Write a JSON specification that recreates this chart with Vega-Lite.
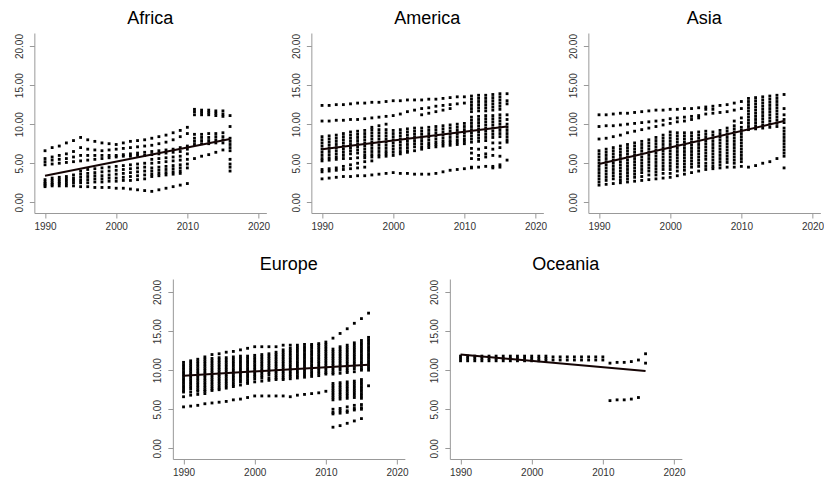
{
"$schema":"https://vega.github.io/schema/vega-lite/v6.json",
"padding":{"left":14,"top":10,"right":0,"bottom":0},
"background":"white",
"config":{"view":{"stroke":null},"axis":{"grid":false,"domainColor":"#999","tickColor":"#999","tickSize":5,"labelFont":"Liberation Sans","labelFontSize":10,"labelColor":"#333","labelPadding":3},"axisY":{"labelPadding":5},"title":{"font":"Liberation Sans","fontSize":18,"fontWeight":"normal","color":"#000","offset":5}},
"datasets":{
"pts":[
{"r":"Africa","x":1990,"v":[6.6,5.6,5.2,4.8,2.9,2.6,2.4,2.2,2.0]},
{"r":"Africa","x":1991,"v":[7.0,5.8,5.4,4.9,3.1,2.8,2.5,2.3,2.1]},
{"r":"Africa","x":1992,"v":[7.2,6.0,5.5,5.0,3.2,2.9,2.6,2.4,2.1]},
{"r":"Africa","x":1993,"v":[7.6,6.2,5.6,5.1,3.3,3.0,2.7,2.4,2.1]},
{"r":"Africa","x":1994,"v":[7.9,6.5,5.8,5.2,3.5,3.1,2.8,2.5,2.1]},
{"r":"Africa","x":1995,"v":[8.3,7.0,6.0,5.3,4.0,3.6,3.2,2.8,2.5,2.0]},
{"r":"Africa","x":1996,"v":[8.0,6.8,6.0,5.4,4.2,3.7,3.3,2.9,2.5,2.0]},
{"r":"Africa","x":1997,"v":[7.8,6.7,6.0,5.5,4.3,3.8,3.4,3.0,2.6,1.9]},
{"r":"Africa","x":1998,"v":[7.6,6.6,6.0,5.6,4.4,3.9,3.4,3.0,2.6,1.9]},
{"r":"Africa","x":1999,"v":[7.5,6.7,6.0,5.7,4.5,4.0,3.5,3.1,2.7,1.9]},
{"r":"Africa","x":2000,"v":[7.4,6.8,6.0,5.8,4.6,4.1,3.6,3.1,2.7,1.8]},
{"r":"Africa","x":2001,"v":[7.6,6.9,6.1,5.9,4.7,4.2,3.7,3.2,2.8,1.8]},
{"r":"Africa","x":2002,"v":[7.8,7.0,6.2,5.9,4.8,4.3,3.8,3.3,2.8,1.7]},
{"r":"Africa","x":2003,"v":[7.9,7.1,6.3,6.0,4.9,4.4,3.9,3.4,2.9,1.6]},
{"r":"Africa","x":2004,"v":[8.0,7.2,6.4,6.0,5.0,4.5,4.0,3.5,3.0,1.5]},
{"r":"Africa","x":2005,"v":[8.2,7.3,6.5,6.1,5.5,5.0,4.4,4.0,3.6,3.3,1.4]},
{"r":"Africa","x":2006,"v":[8.4,7.5,6.6,6.2,5.6,5.1,4.5,4.1,3.7,3.4,1.6]},
{"r":"Africa","x":2007,"v":[8.6,7.7,6.7,6.3,5.7,5.2,4.6,4.2,3.8,3.5,1.8]},
{"r":"Africa","x":2008,"v":[8.9,8.0,6.8,6.4,5.8,5.3,4.7,4.3,3.9,3.6,2.0]},
{"r":"Africa","x":2009,"v":[9.2,8.4,7.0,6.5,5.9,5.4,4.8,4.4,4.0,3.7,2.2]},
{"r":"Africa","x":2010,"v":[9.6,8.8,7.2,6.8,6.2,5.5,4.9,4.4,2.4]},
{"r":"Africa","x":2011,"v":[11.9,11.6,11.2,8.7,8.2,7.8,7.4,5.6]},
{"r":"Africa","x":2012,"v":[11.8,11.5,11.2,8.7,8.3,7.9,7.5,5.9]},
{"r":"Africa","x":2013,"v":[11.8,11.5,11.2,8.8,8.3,7.9,7.5,6.1]},
{"r":"Africa","x":2014,"v":[11.7,11.4,11.1,8.8,8.4,8.0,7.6,6.4]},
{"r":"Africa","x":2015,"v":[11.7,11.3,11.0,8.9,8.4,8.0,7.6,6.7]},
{"r":"Africa","x":2016,"v":[11.1,9.7,8.2,7.8,7.4,7.0,6.6,5.5,4.9,4.5,4.0]},
{"r":"America","x":1990,"v":[12.4,10.4,8.4,8.0,7.6,7.2,6.8,6.4,6.0,5.6,5.3,4.2,3.9,3.0]},
{"r":"America","x":1991,"v":[12.4,10.4,8.5,8.1,7.7,7.3,6.9,6.5,6.1,5.7,5.4,4.3,4.0,3.1]},
{"r":"America","x":1992,"v":[12.5,10.5,8.6,8.2,7.8,7.4,7.0,6.6,6.2,5.8,5.5,4.4,4.1,3.2]},
{"r":"America","x":1993,"v":[12.5,10.5,8.8,8.4,8.0,7.6,7.2,6.8,6.4,6.0,5.6,4.6,4.2,3.3]},
{"r":"America","x":1994,"v":[12.6,10.6,9.0,8.6,8.2,7.8,7.4,7.0,6.6,6.2,5.6,4.8,4.3,3.3]},
{"r":"America","x":1995,"v":[12.7,10.6,9.1,8.7,8.3,7.9,7.5,7.1,6.7,6.3,5.7,5.0,4.4,3.4]},
{"r":"America","x":1996,"v":[12.7,10.7,9.2,8.8,8.4,8.0,7.6,7.2,6.8,6.4,6.0,5.7,5.2,4.5,3.4]},
{"r":"America","x":1997,"v":[12.8,10.8,9.6,9.3,8.9,8.5,8.1,7.7,7.3,6.9,6.5,6.1,5.8,5.3,3.5]},
{"r":"America","x":1998,"v":[12.8,10.9,9.8,9.3,8.9,8.5,8.1,7.7,7.3,6.9,6.5,6.1,5.8,3.6]},
{"r":"America","x":1999,"v":[12.9,11.0,10.0,9.3,8.9,8.5,8.1,7.7,7.3,6.9,6.5,6.2,5.9,3.7]},
{"r":"America","x":2000,"v":[13.0,11.1,9.2,8.8,8.4,8.0,7.6,7.2,6.8,6.4,6.0,3.8]},
{"r":"America","x":2001,"v":[13.0,11.3,9.3,8.9,8.5,8.1,7.7,7.3,6.9,6.5,6.2,3.7]},
{"r":"America","x":2002,"v":[13.1,11.6,9.4,9.0,8.6,8.2,7.8,7.4,7.0,6.6,6.4,3.7]},
{"r":"America","x":2003,"v":[13.1,11.8,9.5,9.1,8.7,8.3,7.9,7.5,7.1,6.6,3.6]},
{"r":"America","x":2004,"v":[13.1,12.0,11.2,9.5,9.1,8.7,8.3,7.9,7.5,7.1,6.8,3.6]},
{"r":"America","x":2005,"v":[13.2,12.1,11.4,9.6,9.2,8.8,8.4,8.0,7.6,7.3,7.0,3.6]},
{"r":"America","x":2006,"v":[13.2,12.3,11.6,9.7,9.3,8.9,8.5,8.1,7.7,7.4,7.1,3.7]},
{"r":"America","x":2007,"v":[13.3,12.4,11.8,9.8,9.4,9.0,8.6,8.2,7.8,7.5,7.2,3.9]},
{"r":"America","x":2008,"v":[13.4,12.5,12.0,9.9,9.5,9.1,8.7,8.3,7.9,7.6,7.3,4.1]},
{"r":"America","x":2009,"v":[13.5,12.6,10.0,9.6,9.2,8.8,8.4,8.0,7.7,7.4,4.2]},
{"r":"America","x":2010,"v":[13.5,12.7,10.1,9.7,9.3,8.9,8.5,8.1,7.8,7.5,4.3]},
{"r":"America","x":2011,"v":[13.6,13.2,12.8,12.4,12.0,11.6,10.9,10.5,10.1,9.7,9.3,8.9,8.5,8.1,7.7,6.9,6.3,5.6,4.5,4.4]},
{"r":"America","x":2012,"v":[13.7,13.3,12.9,12.5,12.1,11.7,11.0,10.6,10.2,9.8,9.4,9.0,8.6,8.2,7.8,6.8,6.0,5.5,4.5]},
{"r":"America","x":2013,"v":[13.7,13.3,12.9,12.5,12.1,11.7,11.1,10.7,10.3,9.9,9.5,9.1,8.7,8.3,7.9,7.0,6.2,5.8,4.6]},
{"r":"America","x":2014,"v":[13.8,13.4,13.0,12.6,12.2,11.8,11.1,10.7,10.3,9.9,9.5,9.1,8.7,8.3,7.6,6.8,6.0,4.6,4.4]},
{"r":"America","x":2015,"v":[13.9,13.5,13.1,12.7,12.3,11.9,11.2,10.8,10.4,10.0,9.6,9.2,8.8,8.4,7.6,7.0,5.9,4.8,4.5]},
{"r":"America","x":2016,"v":[13.9,13.0,12.6,11.2,10.6,10.0,9.6,9.2,8.8,8.4,8.0,7.7,5.4]},
{"r":"Asia","x":1990,"v":[11.2,9.7,8.1,6.6,6.2,5.8,5.4,5.0,4.6,4.2,3.8,3.4,3.0,2.6,2.2]},
{"r":"Asia","x":1991,"v":[11.2,9.8,8.2,6.8,6.4,6.0,5.6,5.2,4.8,4.4,4.0,3.6,3.2,2.8,2.3]},
{"r":"Asia","x":1992,"v":[11.3,9.8,8.4,7.0,6.6,6.2,5.8,5.4,5.0,4.6,4.2,3.8,3.4,3.0,2.4]},
{"r":"Asia","x":1993,"v":[11.4,9.9,8.6,7.2,6.8,6.4,6.0,5.6,5.2,4.8,4.4,4.0,3.6,3.2,2.8,2.5]},
{"r":"Asia","x":1994,"v":[11.4,10.0,8.9,7.4,7.0,6.6,6.2,5.8,5.4,5.0,4.6,4.2,3.8,3.4,3.0,2.6]},
{"r":"Asia","x":1995,"v":[11.5,10.1,9.1,7.6,7.2,6.8,6.4,6.0,5.6,5.2,4.8,4.4,4.0,3.6,3.2,2.7]},
{"r":"Asia","x":1996,"v":[11.6,10.2,9.3,7.8,7.4,7.0,6.6,6.2,5.8,5.4,5.0,4.6,4.2,3.8,3.3,2.8]},
{"r":"Asia","x":1997,"v":[11.7,10.3,9.5,8.0,7.6,7.2,6.8,6.4,6.0,5.6,5.2,4.8,4.4,4.0,3.5,2.9]},
{"r":"Asia","x":1998,"v":[11.8,10.4,9.7,8.3,7.9,7.5,7.1,6.7,6.3,5.9,5.5,5.1,4.7,4.3,3.9,3.5,3.0]},
{"r":"Asia","x":1999,"v":[11.8,10.5,9.9,8.6,8.2,7.8,7.4,7.0,6.6,6.2,5.8,5.4,5.0,4.6,4.2,3.7,3.1]},
{"r":"Asia","x":2000,"v":[11.9,10.7,10.1,9.0,8.6,8.2,7.8,7.4,7.0,6.6,6.2,5.8,5.4,5.0,4.6,4.2,3.7,3.2]},
{"r":"Asia","x":2001,"v":[11.9,10.8,10.3,8.9,8.5,8.1,7.7,7.3,6.9,6.5,6.1,5.7,5.3,4.9,4.5,4.0,3.4]},
{"r":"Asia","x":2002,"v":[12.0,10.9,10.4,8.9,8.5,8.1,7.7,7.3,6.9,6.5,6.1,5.7,5.3,4.9,4.5,4.1,3.6]},
{"r":"Asia","x":2003,"v":[12.0,11.0,10.6,8.9,8.5,8.1,7.7,7.3,6.9,6.5,6.1,5.7,5.3,4.9,4.5,3.8]},
{"r":"Asia","x":2004,"v":[12.1,11.1,10.8,9.0,8.6,8.2,7.8,7.4,7.0,6.6,6.2,5.8,5.4,5.0,4.6,4.0]},
{"r":"Asia","x":2005,"v":[12.2,11.3,11.9,9.1,8.7,8.3,7.9,7.5,7.1,6.7,6.3,5.9,5.5,5.0,4.6,4.2]},
{"r":"Asia","x":2006,"v":[12.3,11.4,11.9,9.0,8.6,8.2,7.8,7.4,7.0,6.6,6.2,5.8,5.4,5.0,4.6,4.3]},
{"r":"Asia","x":2007,"v":[12.4,11.5,9.2,8.8,8.4,8.0,7.6,7.2,6.8,6.4,6.0,5.6,5.2,4.8,4.4]},
{"r":"Asia","x":2008,"v":[12.5,11.6,9.5,9.1,8.7,8.3,7.9,7.5,7.1,6.7,6.3,5.9,5.5,5.1,4.5]},
{"r":"Asia","x":2009,"v":[12.7,11.8,10.4,9.8,9.4,9.0,8.6,8.2,7.8,7.4,7.0,6.6,6.2,5.8,5.4,5.0,4.5]},
{"r":"Asia","x":2010,"v":[12.9,12.0,10.8,10.2,9.6,9.2,8.8,8.4,8.0,7.6,7.2,6.8,6.4,6.0,5.6,5.2,4.6]},
{"r":"Asia","x":2011,"v":[13.3,12.9,12.5,12.1,11.7,11.3,10.9,10.5,10.1,9.7,9.3,4.5]},
{"r":"Asia","x":2012,"v":[13.4,13.0,12.6,12.2,11.8,11.4,11.0,10.6,10.2,9.8,9.4,4.7]},
{"r":"Asia","x":2013,"v":[13.5,13.1,12.7,12.3,11.9,11.5,11.1,10.7,10.3,9.9,9.5,5.0]},
{"r":"Asia","x":2014,"v":[13.6,13.2,12.8,12.4,12.0,11.6,11.2,10.8,10.4,10.0,9.6,5.2]},
{"r":"Asia","x":2015,"v":[13.7,13.3,12.9,12.5,12.1,11.7,11.3,10.9,10.5,10.1,9.7,5.6]},
{"r":"Asia","x":2016,"v":[13.8,12.0,11.2,10.6,10.2,9.5,9.1,8.7,8.3,7.9,7.5,7.1,6.7,6.3,5.9,4.4]},
{"r":"Europe","x":1990,"v":[11.0,10.7,10.4,10.1,9.8,9.5,9.2,8.9,8.6,8.3,8.0,7.7,7.4,7.2,6.6,5.3]},
{"r":"Europe","x":1991,"v":[11.2,10.9,10.6,10.3,10.0,9.7,9.4,9.1,8.8,8.5,8.2,7.9,7.6,7.2,6.8,5.4]},
{"r":"Europe","x":1992,"v":[11.4,11.1,10.8,10.5,10.2,9.9,9.6,9.3,9.0,8.7,8.4,8.1,7.8,7.5,7.3,6.9,5.5]},
{"r":"Europe","x":1993,"v":[11.7,11.4,11.1,10.8,10.5,10.2,9.9,9.6,9.3,9.0,8.7,8.4,8.1,7.8,7.5,7.3,7.0,5.7]},
{"r":"Europe","x":1994,"v":[12.0,11.5,11.2,10.9,10.6,10.3,10.0,9.7,9.4,9.1,8.8,8.5,8.2,7.9,7.6,7.4,5.8]},
{"r":"Europe","x":1995,"v":[12.1,11.6,11.3,11.0,10.7,10.4,10.1,9.8,9.5,9.2,8.9,8.6,8.3,8.0,7.7,7.5,5.9]},
{"r":"Europe","x":1996,"v":[12.3,11.6,11.3,11.0,10.7,10.4,10.1,9.8,9.5,9.2,8.9,8.6,8.3,8.0,7.7,6.0]},
{"r":"Europe","x":1997,"v":[12.4,11.7,11.4,11.1,10.8,10.5,10.2,9.9,9.6,9.3,9.0,8.7,8.4,8.1,7.9,6.2]},
{"r":"Europe","x":1998,"v":[12.6,11.8,11.5,11.2,10.9,10.6,10.3,10.0,9.7,9.4,9.1,8.8,8.5,8.1,6.3]},
{"r":"Europe","x":1999,"v":[12.8,11.8,11.5,11.2,10.9,10.6,10.3,10.0,9.7,9.4,9.1,8.8,8.5,8.3,6.5]},
{"r":"Europe","x":2000,"v":[13.0,11.9,11.6,11.3,11.0,10.7,10.4,10.1,9.8,9.5,9.2,8.9,8.5,6.7]},
{"r":"Europe","x":2001,"v":[13.0,12.0,11.7,11.4,11.1,10.8,10.5,10.2,9.9,9.6,9.3,9.0,8.6,6.7]},
{"r":"Europe","x":2002,"v":[13.0,12.1,11.8,11.5,11.2,10.9,10.6,10.3,10.0,9.7,9.4,9.0,8.7,6.7]},
{"r":"Europe","x":2003,"v":[13.0,12.3,12.0,11.7,11.4,11.1,10.8,10.5,10.2,9.9,9.6,9.3,9.0,8.8,6.7]},
{"r":"Europe","x":2004,"v":[13.2,12.6,12.3,12.0,11.7,11.4,11.1,10.8,10.5,10.2,9.9,9.6,9.3,9.0,8.8,6.7]},
{"r":"Europe","x":2005,"v":[13.2,12.8,12.5,12.2,11.9,11.6,11.3,11.0,10.7,10.4,10.1,9.8,9.5,9.2,8.9,6.6]},
{"r":"Europe","x":2006,"v":[13.2,12.9,12.6,12.3,12.0,11.7,11.4,11.1,10.8,10.5,10.2,9.9,9.6,9.3,9.0,6.8]},
{"r":"Europe","x":2007,"v":[13.3,13.0,12.7,12.4,12.1,11.8,11.5,11.2,10.9,10.6,10.3,10.0,9.7,9.4,9.1,6.9]},
{"r":"Europe","x":2008,"v":[13.3,13.1,12.8,12.5,12.2,11.9,11.6,11.3,11.0,10.7,10.4,10.1,9.8,9.5,9.2,7.0]},
{"r":"Europe","x":2009,"v":[13.4,13.2,12.9,12.6,12.3,12.0,11.7,11.4,11.1,10.8,10.5,10.2,9.9,9.6,9.3,7.1]},
{"r":"Europe","x":2010,"v":[13.6,13.3,13.0,12.7,12.4,12.1,11.8,11.5,11.2,10.9,10.6,10.3,10.0,9.7,9.5,7.3]},
{"r":"Europe","x":2011,"v":[14.1,12.7,12.4,12.1,11.8,11.5,11.2,10.9,10.6,10.3,10.0,9.7,9.5,8.3,8.0,7.7,7.4,7.1,6.8,6.5,6.2,5.0,4.6,4.4,2.7]},
{"r":"Europe","x":2012,"v":[14.7,13.0,12.7,12.4,12.1,11.8,11.5,11.2,10.9,10.6,10.3,10.0,9.6,8.4,8.1,7.8,7.5,7.2,6.9,6.6,6.3,5.1,4.8,4.5,2.9]},
{"r":"Europe","x":2013,"v":[15.3,13.2,12.9,12.6,12.3,12.0,11.7,11.4,11.1,10.8,10.5,10.2,9.9,9.7,8.5,8.2,7.9,7.6,7.3,7.0,6.7,6.4,5.3,4.8,4.6,3.2]},
{"r":"Europe","x":2014,"v":[16.0,13.5,13.2,12.9,12.6,12.3,12.0,11.7,11.4,11.1,10.8,10.5,10.2,9.8,8.6,8.3,8.0,7.7,7.4,7.1,6.8,6.5,5.5,5.1,4.9,3.5]},
{"r":"Europe","x":2015,"v":[16.6,13.8,13.5,13.2,12.9,12.6,12.3,12.0,11.7,11.4,11.1,10.8,10.5,10.2,10.0,8.8,8.5,8.2,7.9,7.6,7.3,7.0,6.7,6.4,5.6,5.2,5.0,3.8]},
{"r":"Europe","x":2016,"v":[17.3,14.2,13.9,13.6,13.3,13.0,12.7,12.4,12.1,11.8,11.5,11.2,10.9,10.6,10.3,10.0,8.0]},
{"r":"Oceania","x":1990,"v":[11.8,11.5,11.2]},
{"r":"Oceania","x":1991,"v":[11.8,11.5,11.2]},
{"r":"Oceania","x":1992,"v":[11.8,11.5,11.2]},
{"r":"Oceania","x":1993,"v":[11.8,11.5,11.2]},
{"r":"Oceania","x":1994,"v":[11.8,11.5,11.2]},
{"r":"Oceania","x":1995,"v":[11.8,11.5,11.2]},
{"r":"Oceania","x":1996,"v":[11.8,11.5,11.2]},
{"r":"Oceania","x":1997,"v":[11.8,11.5,11.2]},
{"r":"Oceania","x":1998,"v":[11.8,11.5,11.2]},
{"r":"Oceania","x":1999,"v":[11.8,11.5,11.2]},
{"r":"Oceania","x":2000,"v":[11.8,11.5,11.2]},
{"r":"Oceania","x":2001,"v":[11.8,11.5,11.2]},
{"r":"Oceania","x":2002,"v":[11.8,11.5,11.2]},
{"r":"Oceania","x":2003,"v":[11.7,11.3]},
{"r":"Oceania","x":2004,"v":[11.7,11.3]},
{"r":"Oceania","x":2005,"v":[11.7,11.3]},
{"r":"Oceania","x":2006,"v":[11.7,11.3]},
{"r":"Oceania","x":2007,"v":[11.7,11.3]},
{"r":"Oceania","x":2008,"v":[11.7,11.3]},
{"r":"Oceania","x":2009,"v":[11.7,11.3]},
{"r":"Oceania","x":2010,"v":[11.7,11.3]},
{"r":"Oceania","x":2011,"v":[10.9,6.1]},
{"r":"Oceania","x":2012,"v":[11.0,6.2]},
{"r":"Oceania","x":2013,"v":[11.0,6.2]},
{"r":"Oceania","x":2014,"v":[11.1,6.3]},
{"r":"Oceania","x":2015,"v":[11.3,6.5]},
{"r":"Oceania","x":2016,"v":[12.1,10.9]}
],
"fit":[
{"r":"Africa","x":1990,"v":3.4},{"r":"Africa","x":2016,"v":8.1},
{"r":"America","x":1990,"v":6.8},{"r":"America","x":2016,"v":9.7},
{"r":"Asia","x":1990,"v":4.9},{"r":"Asia","x":2016,"v":10.4},
{"r":"Europe","x":1990,"v":9.3},{"r":"Europe","x":2016,"v":10.7},
{"r":"Oceania","x":1990,"v":12.0},{"r":"Oceania","x":2016,"v":9.9}
]},
"vconcat":[
{"hconcat":[
{"title":"Africa","width":232,"height":180,"layer":[
{"data":{"name":"pts"},"transform":[{"filter":"datum.r==='Africa'"},{"flatten":["v"]}],"mark":{"type":"point","shape":"square","filled":true,"size":8,"color":"#000","opacity":1},
"encoding":{"x":{"field":"x","type":"quantitative","scale":{"domain":[1988.5,2021.1],"nice":false,"zero":false},"axis":{"values":[1990,2000,2010,2020],"format":"d","title":null}},"y":{"field":"v","type":"quantitative","scale":{"domain":[-1.37,21.67],"nice":false,"zero":false},"axis":{"values":[0,5,10,15,20],"format":".2f","title":null,"labelAngle":270}}}},
{"data":{"name":"fit"},"transform":[{"filter":"datum.r==='Africa'"}],"mark":{"type":"line","color":"#150505","strokeWidth":2},
"encoding":{"x":{"field":"x","type":"quantitative"},"y":{"field":"v","type":"quantitative"}}}]},
{"title":"America","width":232,"height":180,"layer":[
{"data":{"name":"pts"},"transform":[{"filter":"datum.r==='America'"},{"flatten":["v"]}],"mark":{"type":"point","shape":"square","filled":true,"size":8,"color":"#000","opacity":1},
"encoding":{"x":{"field":"x","type":"quantitative","scale":{"domain":[1988.5,2021.1],"nice":false,"zero":false},"axis":{"values":[1990,2000,2010,2020],"format":"d","title":null}},"y":{"field":"v","type":"quantitative","scale":{"domain":[-1.37,21.67],"nice":false,"zero":false},"axis":{"values":[0,5,10,15,20],"format":".2f","title":null,"labelAngle":270}}}},
{"data":{"name":"fit"},"transform":[{"filter":"datum.r==='America'"}],"mark":{"type":"line","color":"#150505","strokeWidth":2},
"encoding":{"x":{"field":"x","type":"quantitative"},"y":{"field":"v","type":"quantitative"}}}]},
{"title":"Asia","width":232,"height":180,"layer":[
{"data":{"name":"pts"},"transform":[{"filter":"datum.r==='Asia'"},{"flatten":["v"]}],"mark":{"type":"point","shape":"square","filled":true,"size":8,"color":"#000","opacity":1},
"encoding":{"x":{"field":"x","type":"quantitative","scale":{"domain":[1988.5,2021.1],"nice":false,"zero":false},"axis":{"values":[1990,2000,2010,2020],"format":"d","title":null}},"y":{"field":"v","type":"quantitative","scale":{"domain":[-1.37,21.67],"nice":false,"zero":false},"axis":{"values":[0,5,10,15,20],"format":".2f","title":null,"labelAngle":270}}}},
{"data":{"name":"fit"},"transform":[{"filter":"datum.r==='Asia'"}],"mark":{"type":"line","color":"#150505","strokeWidth":2},
"encoding":{"x":{"field":"x","type":"quantitative"},"y":{"field":"v","type":"quantitative"}}}]}
],"spacing":45,"bounds":"flush"},
{"hconcat":[
{"title":"Europe","width":232,"height":180,"layer":[
{"data":{"name":"pts"},"transform":[{"filter":"datum.r==='Europe'"},{"flatten":["v"]}],"mark":{"type":"point","shape":"square","filled":true,"size":8,"color":"#000","opacity":1},
"encoding":{"x":{"field":"x","type":"quantitative","scale":{"domain":[1988.5,2021.1],"nice":false,"zero":false},"axis":{"values":[1990,2000,2010,2020],"format":"d","title":null}},"y":{"field":"v","type":"quantitative","scale":{"domain":[-1.37,21.67],"nice":false,"zero":false},"axis":{"values":[0,5,10,15,20],"format":".2f","title":null,"labelAngle":270}}}},
{"data":{"name":"fit"},"transform":[{"filter":"datum.r==='Europe'"}],"mark":{"type":"line","color":"#150505","strokeWidth":2},
"encoding":{"x":{"field":"x","type":"quantitative"},"y":{"field":"v","type":"quantitative"}}}]},
{"title":"Oceania","width":232,"height":180,"layer":[
{"data":{"name":"pts"},"transform":[{"filter":"datum.r==='Oceania'"},{"flatten":["v"]}],"mark":{"type":"point","shape":"square","filled":true,"size":8,"color":"#000","opacity":1},
"encoding":{"x":{"field":"x","type":"quantitative","scale":{"domain":[1988.5,2021.1],"nice":false,"zero":false},"axis":{"values":[1990,2000,2010,2020],"format":"d","title":null}},"y":{"field":"v","type":"quantitative","scale":{"domain":[-1.37,21.67],"nice":false,"zero":false},"axis":{"values":[0,5,10,15,20],"format":".2f","title":null,"labelAngle":270}}}},
{"data":{"name":"fit"},"transform":[{"filter":"datum.r==='Oceania'"}],"mark":{"type":"line","color":"#150505","strokeWidth":2},
"encoding":{"x":{"field":"x","type":"quantitative"},"y":{"field":"v","type":"quantitative"}}}]}
],"spacing":45,"bounds":"flush"}
],"spacing":25,"center":true
}
